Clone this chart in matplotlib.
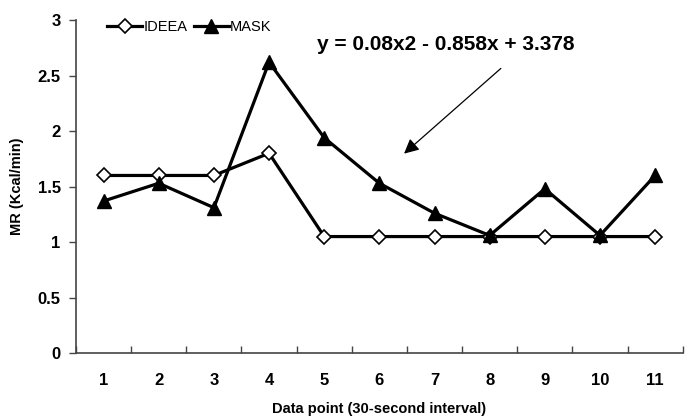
import numpy as np
import matplotlib
matplotlib.use("Agg")
import matplotlib.pyplot as plt

plt.rcParams['font.family'] = ['Liberation Sans', 'DejaVu Sans']

# data
points = [1, 2, 3, 4, 5, 6, 7, 8, 9, 10, 11]
ideea = [1.60, 1.60, 1.60, 1.80, 1.05, 1.05, 1.05, 1.05, 1.05, 1.05, 1.05]
mask = [1.37, 1.53, 1.31, 2.62, 1.94, 1.53, 1.26, 1.06, 1.48, 1.06, 1.60]
yticks = [0, 0.5, 1, 1.5, 2, 2.5, 3]
ytick_labels = ['0', '0.5', '1', '1.5', '2', '2.5', '3']

fig = plt.figure(figsize=(6.91, 4.16), dpi=100)
ax = fig.add_axes([0.110, 0.151, 0.878, 0.801])

ax.plot(points, ideea, color='black', lw=2.3, marker='D', ms=7,
        mfc='white', mec='black', mew=1.2, label='IDEEA')
ax.plot(points, mask, color='black', lw=2.3, marker='^', ms=10,
        mfc='black', mec='black', label='MASK')

ax.set_xlim(0.5, 11.5)
ax.set_ylim(0, 3)
ax.set_xticks(points)
ax.set_xticklabels([str(p) for p in points], fontsize=12, fontweight='bold')
ax.set_xticks(np.arange(0.5, 12, 1), minor=True)
ax.tick_params(axis='x', which='major', length=0, pad=14)
ax.tick_params(axis='x', which='minor', length=5, width=1, color='#444444', direction='in')
ax.set_yticks(yticks)
ax.set_yticklabels(ytick_labels, fontsize=12, fontweight='bold')
ax.tick_params(axis='y', length=5, width=1, color='#444444', pad=6)

for s in ['top', 'right']:
    ax.spines[s].set_visible(False)
for s in ['left', 'bottom']:
    ax.spines[s].set_color('#444444')
    ax.spines[s].set_linewidth(1.2)

ax.set_xlabel('Data point (30-second interval)', fontsize=10.5, fontweight='bold', labelpad=10)
ax.set_ylabel('MR (Kcal/min)', fontsize=10.5, fontweight='bold', labelpad=10)

ax.legend(loc='upper left', bbox_to_anchor=(0.03, 1.04), ncol=2, frameon=False,
          fontsize=10.5, handlelength=2.4, handletextpad=0.1, columnspacing=0.4)

ax.text(4.87, 2.78, 'y = 0.08x2 - 0.858x + 3.378', fontsize=15, fontweight='bold',
        va='center', ha='left')
ax.annotate('', xy=(6.41, 1.78), xytext=(8.24, 2.58),
            arrowprops=dict(arrowstyle='-|>', color='black', lw=0.9,
                            mutation_scale=22))

fig.savefig('out.png', dpi=100)
